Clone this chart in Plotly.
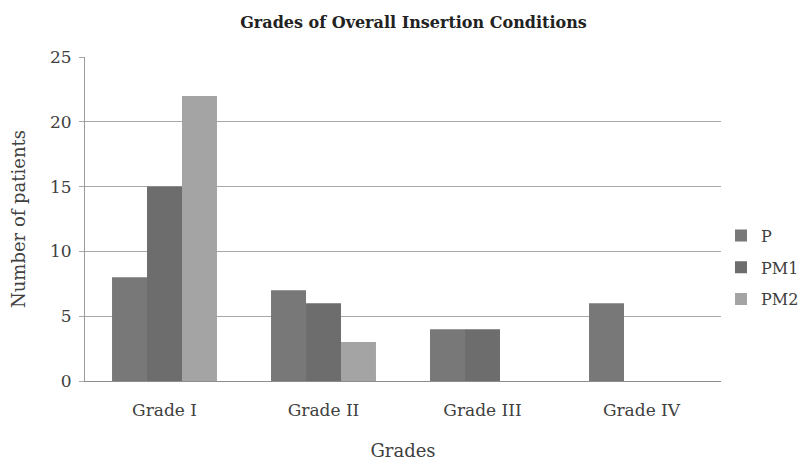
import plotly.graph_objects as go

# data
grades = ["Grade I", "Grade II", "Grade III", "Grade IV"]
p_vals = [8, 7, 4, 6]
pm1_vals = [15, 6, 4, 0]
pm2_vals = [22, 3, 0, 0]

SERIES = [
    ("P", p_vals, "#787878"),
    ("PM1", pm1_vals, "#6d6d6d"),
    ("PM2", pm2_vals, "#a4a4a4"),
]

FONT = "DejaVu Serif, serif"
TEXT = "#404040"

fig = go.Figure()
for name, vals, color in SERIES:
    fig.add_trace(go.Bar(x=grades, y=vals, name=name, marker_color=color,
                         marker_line_width=0, legendgroup=name))

# the page body has an 8px margin, so the margins below are shifted to compensate
fig.update_layout(
    width=811, height=459,
    paper_bgcolor="white", plot_bgcolor="white",
    font={"family": FONT, "color": TEXT, "size": 16},
    margin={"l": 77, "r": 98, "t": 49, "b": 86, "autoexpand": False},
    barmode="group", bargap=0.34, bargroupgap=0,
    title={"text": "<b>Grades of Overall Insertion Conditions</b>",
           "x": 0.5, "xanchor": "center", "y": 0.9695, "yanchor": "middle",
           "font": {"size": 16, "color": "#222222", "family": FONT}},
    legend={"x": 1.0, "xanchor": "left", "y": 0.35, "yanchor": "middle",
            "font": {"size": 16, "color": TEXT}, "traceorder": "grouped",
            "tracegroupgap": 8, "itemwidth": 30, "bgcolor": "rgba(0,0,0,0)"},
    showlegend=True,
)

fig.update_xaxes(
    title={"text": "Grades", "font": {"size": 18}, "standoff": 24},
    automargin=False,
    showline=True, linecolor="#8c8c8c", linewidth=1,
    ticks="", ticklabelstandoff=14, tickfont={"size": 17}, showgrid=False,
)
fig.update_yaxes(
    title={"text": "Number of patients", "font": {"size": 18}, "standoff": 24},
    automargin=False,
    range=[0, 25], dtick=5, showgrid=True, gridcolor="#a8a8a8", gridwidth=1,
    showline=True, linecolor="#9a9a9a", linewidth=1,
    ticks="outside", ticklen=5, tickcolor="#a8a8a8", ticklabelstandoff=4,
    tickfont={"size": 17}, zeroline=False,
)

fig.write_html("out.html")
